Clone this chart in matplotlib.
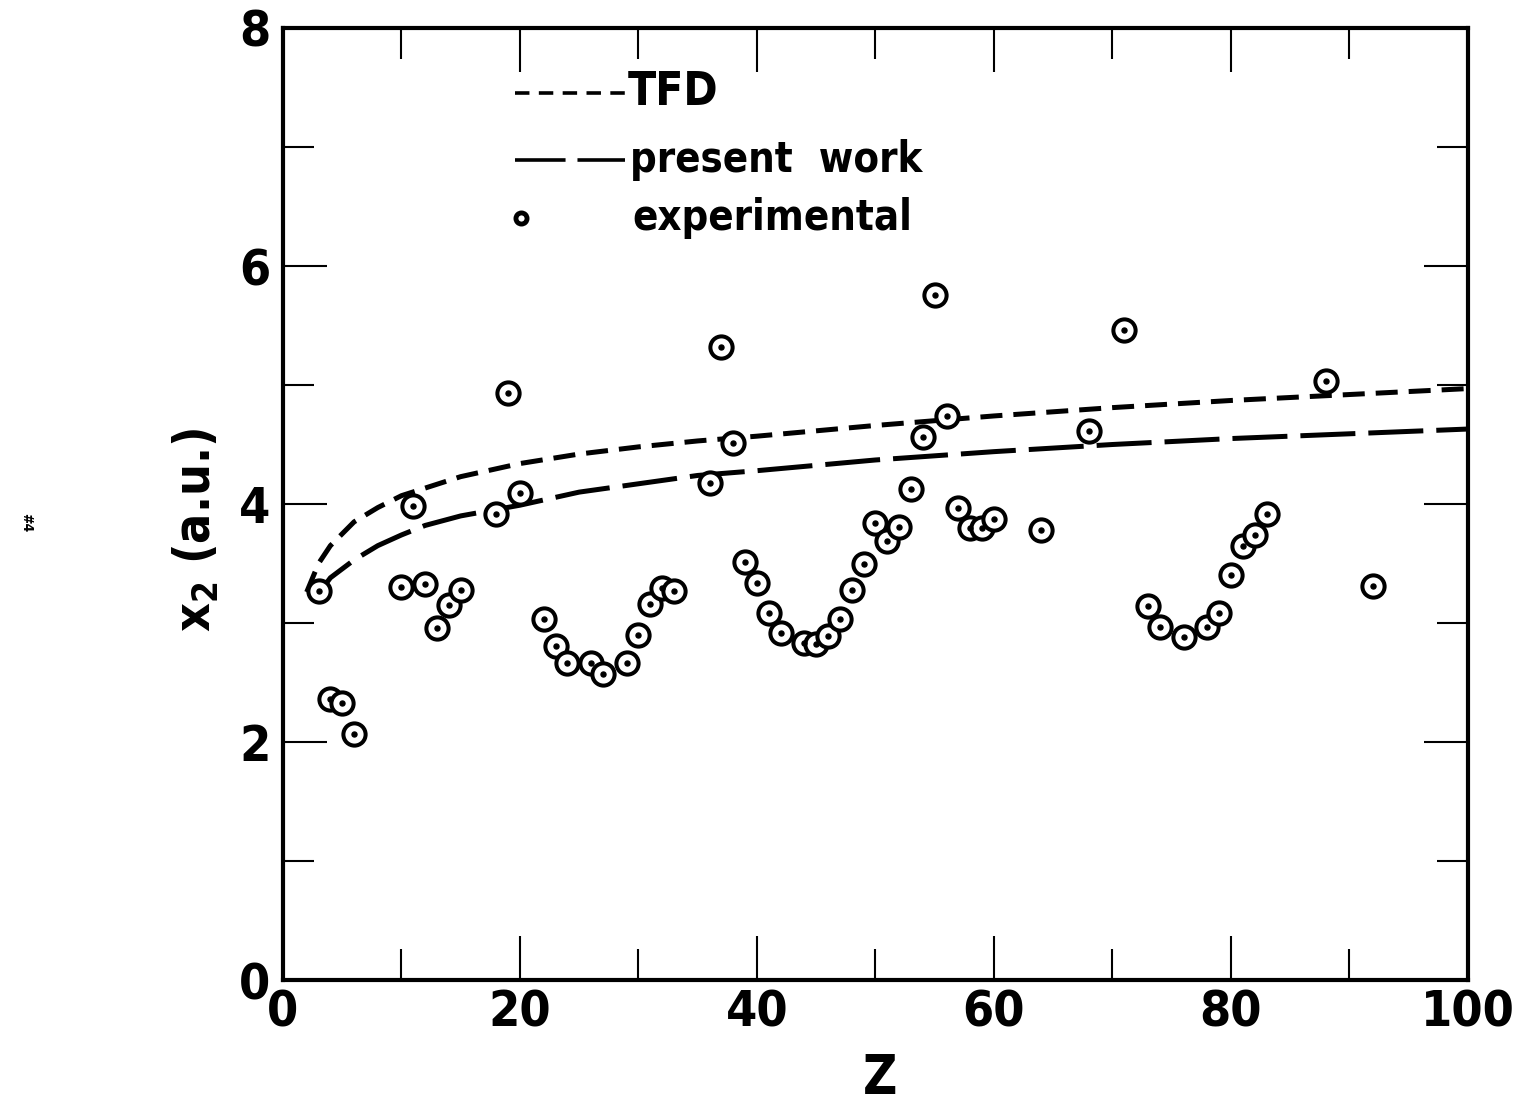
import matplotlib
matplotlib.use("Agg")
import matplotlib.pyplot as plt

# experimental x2 values vs atomic number
z_exp = [3, 4, 5, 6, 10, 11, 12, 13, 14, 15, 18, 19, 20, 22, 23, 24, 26, 27, 29, 30,
         31, 32, 33, 36, 37, 38, 39, 40, 41, 42, 44, 45, 46, 47, 48, 49, 50, 51, 52, 53,
         54, 55, 56, 57, 58, 59, 60, 64, 68, 71, 73, 74, 76, 78, 79, 80, 81, 82, 83, 88, 92]
x2_exp = [3.27, 2.36, 2.33, 2.07, 3.30, 3.98, 3.33, 2.96, 3.15, 3.28, 3.92, 4.93, 4.09,
          3.03, 2.81, 2.66, 2.66, 2.57, 2.66, 2.90, 3.16, 3.29, 3.27, 4.18, 5.32, 4.51,
          3.51, 3.34, 3.08, 2.92, 2.83, 2.82, 2.89, 3.03, 3.28, 3.50, 3.84, 3.69, 3.81,
          4.13, 4.56, 5.76, 4.74, 3.97, 3.80, 3.80, 3.87, 3.78, 4.61, 5.46, 3.14, 2.97,
          2.88, 2.97, 3.08, 3.40, 3.65, 3.74, 3.92, 5.03, 3.31]

# TFD curve
z_tfd = [2, 3, 4, 6, 8, 10, 15, 20, 25, 30, 35, 40, 50, 60, 70, 80, 90, 100]
x2_tfd = [3.26, 3.50, 3.65, 3.85, 3.97, 4.07, 4.23, 4.34, 4.42, 4.48, 4.53, 4.57,
          4.66, 4.74, 4.81, 4.87, 4.92, 4.97]

# present work curve
z_pw = [2.5, 4, 6, 8, 10, 12, 15, 20, 25, 30, 35, 40, 50, 60, 70, 80, 90, 100]
x2_pw = [3.18, 3.38, 3.53, 3.65, 3.74, 3.82, 3.90, 3.99, 4.10, 4.17, 4.24, 4.28,
         4.37, 4.44, 4.50, 4.55, 4.59, 4.63]

plt.rcParams['font.family'] = ['DejaVu Sans']
plt.rcParams['font.stretch'] = 'condensed'
plt.rcParams['font.weight'] = 'bold'
plt.rcParams['axes.labelweight'] = 'bold'
plt.rcParams['mathtext.fontset'] = 'dejavusans'

fig = plt.figure(figsize=(15.19, 11.11), dpi=100)
ax = fig.add_axes([0.1863, 0.1179, 0.7801, 0.8569])

ax.plot(z_tfd, x2_tfd, color='k', lw=3.6, dashes=(4.4, 2.2))
ax.plot(z_pw, x2_pw, color='k', lw=3.6, dashes=(11, 2.6))
ax.plot(z_exp, x2_exp, ls='none', marker='o', ms=16, mfc='white', mec='k', mew=2.9)
ax.plot(z_exp, x2_exp, ls='none', marker='o', ms=3.6, color='k')

# hand-drawn style legend
ax.plot([0.196, 0.289], [0.932, 0.932], transform=ax.transAxes, color='k', lw=2.6,
        dashes=(4, 2.6))
ax.text(0.291, 0.932, 'TFD', transform=ax.transAxes, fontsize=33, va='center', ha='left')
ax.plot([0.196, 0.289], [0.861, 0.861], transform=ax.transAxes, color='k', lw=2.6,
        dashes=(14, 3.3))
ax.text(0.293, 0.861, 'present  work', transform=ax.transAxes, fontsize=30,
        va='center', ha='left')
ax.plot([0.201], [0.800], transform=ax.transAxes, marker='o', ms=8, mfc='white',
        mec='k', mew=3.5)
ax.text(0.295, 0.800, 'experimental', transform=ax.transAxes, fontsize=30,
        va='center', ha='left')

ax.set_xlim(0, 100)
ax.set_ylim(0, 8)
ax.set_xticks([0, 20, 40, 60, 80, 100])
ax.set_xticks([10, 30, 50, 70, 90], minor=True)
ax.set_yticks([0, 2, 4, 6, 8])
ax.set_yticks([1, 3, 5, 7], minor=True)
ax.tick_params(which='both', direction='in', top=True, right=True, width=1.5,
               labelsize=36)
ax.tick_params(which='major', length=32)
ax.tick_params(which='minor', length=22)
ax.tick_params(axis='x', pad=6)
ax.tick_params(axis='y', pad=9)
for s in ax.spines.values():
    s.set_linewidth(3)

ax.set_xlabel('Z', fontsize=38)
ax.xaxis.set_label_coords(0.504, -0.076)
ax.set_ylabel(r'$\mathbf{x_2}$ (a.u.)', fontsize=36)
ax.yaxis.set_label_coords(-0.052, 0.473)

fig.text(0.017, 0.53, '#4', rotation=-90, fontsize=10, ha='center', va='center')

fig.savefig('out.png', dpi=100)
